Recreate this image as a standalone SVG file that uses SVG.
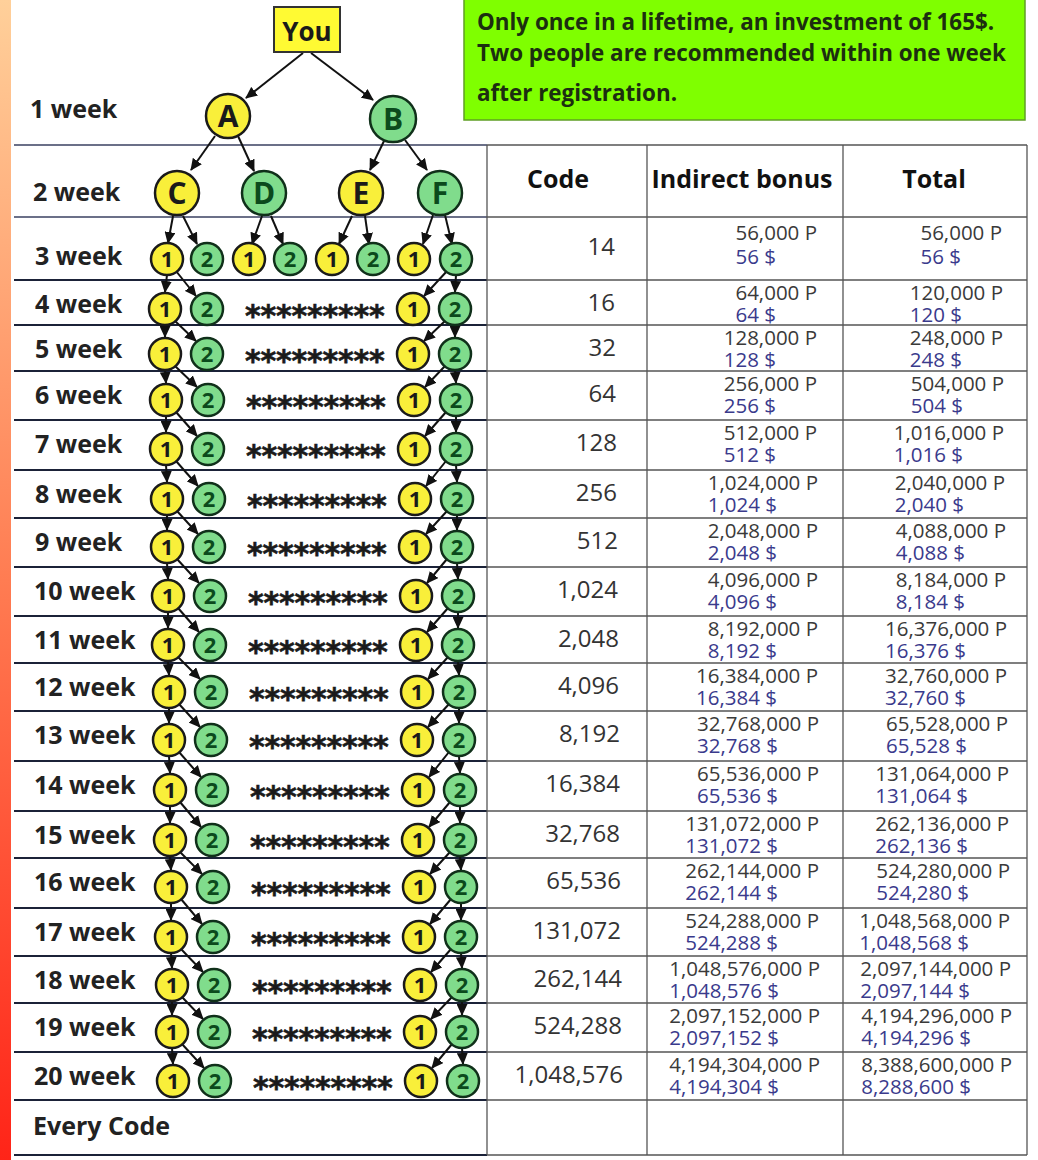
<svg xmlns="http://www.w3.org/2000/svg" width="1038" height="1160" viewBox="0 0 1038 1160">
<style>
text{font-family:"Open Sans","Noto Sans",sans-serif}
.lbl{font-weight:700;font-size:25px;fill:#222}
.hdr{font-weight:700;font-size:25px;fill:#111;text-anchor:middle}
.code{font-size:24px;fill:#333;text-anchor:end}
.v{font-size:20.5px;fill:#3a3a3a;text-anchor:end}
.d{fill:#3a3a8c}
.stars{font-family:"DejaVu Sans",sans-serif;font-weight:700;font-size:30px;fill:#1a1a1a;letter-spacing:-0.2px;stroke:#1a1a1a;stroke-width:0.6}
.note{font-weight:700;font-size:22.4px;fill:#1c2e10}
.cy{fill:#F9EF3A;stroke:#1a1a1a;stroke-width:2.5}
.cg{fill:#80DC8C;stroke:#10301a;stroke-width:2.5}
.ny{font-weight:700;font-size:22px;fill:#1a1a1a;text-anchor:middle}
.ng{font-weight:700;font-size:22px;fill:#0b4a1c;text-anchor:middle}
.big{font-size:30px}
.arr{stroke:#111;stroke-width:2;fill:none;marker-end:url(#ah)}
.grid{stroke:#555;stroke-width:1.3}
.rl{stroke:#1b2238;stroke-width:2}
.rlt{stroke:#3a4060;stroke-width:1.5}
</style>
<defs>
<linearGradient id="strip" x1="0" y1="0" x2="0" y2="1">
<stop offset="0" stop-color="#FFD09A"/>
<stop offset="0.5" stop-color="#FF7C52"/>
<stop offset="1" stop-color="#FF2418"/>
</linearGradient>
<marker id="ah" markerUnits="userSpaceOnUse" markerWidth="12" markerHeight="11" viewBox="0 0 12 11" refX="11" refY="5.5" orient="auto">
<path d="M0,0 L12,5.5 L0,11 z" fill="#111"/>
</marker>
</defs>
<rect x="0" y="0" width="1038" height="1160" fill="#fff"/>
<rect x="0" y="0" width="11" height="1160" fill="url(#strip)"/>

<g id="notice">
<rect x="464" y="-3" width="561" height="123" fill="#7FFF00" stroke="#5f9f25" stroke-width="1.5"/>
<text class="note" x="477" y="30">Only once in a lifetime, an investment of 165$.</text>
<text class="note" x="477" y="61">Two people are recommended within one week</text>
<text class="note" x="477" y="101">after registration.</text>
</g>

<g id="row-lines">
<line class="rlt" x1="14" y1="145" x2="487" y2="145"/>
<line class="rlt" x1="14" y1="217" x2="487" y2="217"/>
<line class="rl" x1="14" y1="280" x2="487" y2="280"/>
<line class="rl" x1="14" y1="325" x2="487" y2="325"/>
<line class="rl" x1="14" y1="371" x2="487" y2="371"/>
<line class="rl" x1="14" y1="420" x2="487" y2="420"/>
<line class="rl" x1="14" y1="470" x2="487" y2="470"/>
<line class="rl" x1="14" y1="518" x2="487" y2="518"/>
<line class="rl" x1="14" y1="567" x2="487" y2="567"/>
<line class="rl" x1="14" y1="616" x2="487" y2="616"/>
<line class="rl" x1="14" y1="663" x2="487" y2="663"/>
<line class="rl" x1="14" y1="711" x2="487" y2="711"/>
<line class="rl" x1="14" y1="761" x2="487" y2="761"/>
<line class="rl" x1="14" y1="811" x2="487" y2="811"/>
<line class="rl" x1="14" y1="858" x2="487" y2="858"/>
<line class="rl" x1="14" y1="908" x2="487" y2="908"/>
<line class="rl" x1="14" y1="956" x2="487" y2="956"/>
<line class="rl" x1="14" y1="1003" x2="487" y2="1003"/>
<line class="rl" x1="14" y1="1052" x2="487" y2="1052"/>
<line class="rl" x1="14" y1="1100" x2="487" y2="1100"/>
<line class="rl" x1="14" y1="1155" x2="487" y2="1155"/>
</g>

<g id="table-grid">
<line class="grid" x1="487" y1="145" x2="487" y2="1155"/>
<line class="grid" x1="647" y1="145" x2="647" y2="1155"/>
<line class="grid" x1="843" y1="145" x2="843" y2="1155"/>
<line class="grid" x1="1027" y1="145" x2="1027" y2="1155"/>
<line class="grid" x1="487" y1="145" x2="1027" y2="145"/>
<line class="grid" x1="487" y1="217" x2="1027" y2="217"/>
<line class="grid" x1="487" y1="280" x2="1027" y2="280"/>
<line class="grid" x1="487" y1="325" x2="1027" y2="325"/>
<line class="grid" x1="487" y1="371" x2="1027" y2="371"/>
<line class="grid" x1="487" y1="420" x2="1027" y2="420"/>
<line class="grid" x1="487" y1="470" x2="1027" y2="470"/>
<line class="grid" x1="487" y1="518" x2="1027" y2="518"/>
<line class="grid" x1="487" y1="567" x2="1027" y2="567"/>
<line class="grid" x1="487" y1="616" x2="1027" y2="616"/>
<line class="grid" x1="487" y1="663" x2="1027" y2="663"/>
<line class="grid" x1="487" y1="711" x2="1027" y2="711"/>
<line class="grid" x1="487" y1="761" x2="1027" y2="761"/>
<line class="grid" x1="487" y1="811" x2="1027" y2="811"/>
<line class="grid" x1="487" y1="858" x2="1027" y2="858"/>
<line class="grid" x1="487" y1="908" x2="1027" y2="908"/>
<line class="grid" x1="487" y1="956" x2="1027" y2="956"/>
<line class="grid" x1="487" y1="1003" x2="1027" y2="1003"/>
<line class="grid" x1="487" y1="1052" x2="1027" y2="1052"/>
<line class="grid" x1="487" y1="1100" x2="1027" y2="1100"/>
<line class="grid" x1="487" y1="1155" x2="1027" y2="1155"/>
</g>

<g id="table-text">
<text class="hdr" x="558" y="188">Code</text>
<text class="hdr" x="742" y="188">Indirect bonus</text>
<text class="hdr" x="934" y="188">Total</text>

<text class="code" x="615" y="255">14</text>
<text class="v"><tspan x="817" y="240">56,000 P</tspan><tspan class="d" x="776" y="264">56 $</tspan></text>
<text class="v"><tspan x="1002" y="240">56,000 P</tspan><tspan class="d" x="961" y="264">56 $</tspan></text>

<text class="code" x="615" y="311">16</text>
<text class="v"><tspan x="817" y="300">64,000 P</tspan><tspan class="d" x="776" y="322">64 $</tspan></text>
<text class="v"><tspan x="1003" y="300">120,000 P</tspan><tspan class="d" x="962" y="322">120 $</tspan></text>

<text class="code" x="616" y="356">32</text>
<text class="v"><tspan x="817" y="345">128,000 P</tspan><tspan class="d" x="776" y="367">128 $</tspan></text>
<text class="v"><tspan x="1003" y="345">248,000 P</tspan><tspan class="d" x="962" y="367">248 $</tspan></text>

<text class="code" x="616" y="402">64</text>
<text class="v"><tspan x="817" y="391">256,000 P</tspan><tspan class="d" x="776" y="413">256 $</tspan></text>
<text class="v"><tspan x="1004" y="391">504,000 P</tspan><tspan class="d" x="963" y="413">504 $</tspan></text>

<text class="code" x="617" y="451">128</text>
<text class="v"><tspan x="817" y="440">512,000 P</tspan><tspan class="d" x="776" y="462">512 $</tspan></text>
<text class="v"><tspan x="1004" y="440">1,016,000 P</tspan><tspan class="d" x="963" y="462">1,016 $</tspan></text>

<text class="code" x="617" y="501">256</text>
<text class="v"><tspan x="818" y="490">1,024,000 P</tspan><tspan class="d" x="777" y="512">1,024 $</tspan></text>
<text class="v"><tspan x="1005" y="490">2,040,000 P</tspan><tspan class="d" x="964" y="512">2,040 $</tspan></text>

<text class="code" x="618" y="549">512</text>
<text class="v"><tspan x="818" y="538">2,048,000 P</tspan><tspan class="d" x="777" y="560">2,048 $</tspan></text>
<text class="v"><tspan x="1006" y="538">4,088,000 P</tspan><tspan class="d" x="965" y="560">4,088 $</tspan></text>

<text class="code" x="618" y="598">1,024</text>
<text class="v"><tspan x="818" y="587">4,096,000 P</tspan><tspan class="d" x="777" y="609">4,096 $</tspan></text>
<text class="v"><tspan x="1006" y="587">8,184,000 P</tspan><tspan class="d" x="965" y="609">8,184 $</tspan></text>

<text class="code" x="619" y="647">2,048</text>
<text class="v"><tspan x="818" y="636">8,192,000 P</tspan><tspan class="d" x="777" y="658">8,192 $</tspan></text>
<text class="v"><tspan x="1007" y="636">16,376,000 P</tspan><tspan class="d" x="966" y="658">16,376 $</tspan></text>

<text class="code" x="619" y="694">4,096</text>
<text class="v"><tspan x="818" y="683">16,384,000 P</tspan><tspan class="d" x="777" y="705">16,384 $</tspan></text>
<text class="v"><tspan x="1007" y="683">32,760,000 P</tspan><tspan class="d" x="966" y="705">32,760 $</tspan></text>

<text class="code" x="620" y="742">8,192</text>
<text class="v"><tspan x="819" y="731">32,768,000 P</tspan><tspan class="d" x="778" y="753">32,768 $</tspan></text>
<text class="v"><tspan x="1008" y="731">65,528,000 P</tspan><tspan class="d" x="967" y="753">65,528 $</tspan></text>

<text class="code" x="620" y="792">16,384</text>
<text class="v"><tspan x="819" y="781">65,536,000 P</tspan><tspan class="d" x="778" y="803">65,536 $</tspan></text>
<text class="v"><tspan x="1009" y="781">131,064,000 P</tspan><tspan class="d" x="968" y="803">131,064 $</tspan></text>

<text class="code" x="620" y="842">32,768</text>
<text class="v"><tspan x="819" y="831">131,072,000 P</tspan><tspan class="d" x="778" y="853">131,072 $</tspan></text>
<text class="v"><tspan x="1009" y="831">262,136,000 P</tspan><tspan class="d" x="968" y="853">262,136 $</tspan></text>

<text class="code" x="621" y="889">65,536</text>
<text class="v"><tspan x="819" y="878">262,144,000 P</tspan><tspan class="d" x="778" y="900">262,144 $</tspan></text>
<text class="v"><tspan x="1010" y="878">524,280,000 P</tspan><tspan class="d" x="969" y="900">524,280 $</tspan></text>

<text class="code" x="621" y="939">131,072</text>
<text class="v"><tspan x="819" y="928">524,288,000 P</tspan><tspan class="d" x="778" y="950">524,288 $</tspan></text>
<text class="v"><tspan x="1010" y="928">1,048,568,000 P</tspan><tspan class="d" x="969" y="950">1,048,568 $</tspan></text>

<text class="code" x="622" y="987">262,144</text>
<text class="v"><tspan x="820" y="976">1,048,576,000 P</tspan><tspan class="d" x="779" y="998">1,048,576 $</tspan></text>
<text class="v"><tspan x="1011" y="976">2,097,144,000 P</tspan><tspan class="d" x="970" y="998">2,097,144 $</tspan></text>

<text class="code" x="622" y="1034">524,288</text>
<text class="v"><tspan x="820" y="1023">2,097,152,000 P</tspan><tspan class="d" x="779" y="1045">2,097,152 $</tspan></text>
<text class="v"><tspan x="1012" y="1023">4,194,296,000 P</tspan><tspan class="d" x="971" y="1045">4,194,296 $</tspan></text>

<text class="code" x="623" y="1083">1,048,576</text>
<text class="v"><tspan x="820" y="1072">4,194,304,000 P</tspan><tspan class="d" x="779" y="1094">4,194,304 $</tspan></text>
<text class="v"><tspan x="1012" y="1072">8,388,600,000 P</tspan><tspan class="d" x="971" y="1094">8,288,600 $</tspan></text>
</g>

<g id="week-labels">
<text class="lbl" x="30" y="118">1 week</text>
<text class="lbl" x="33" y="201">2 week</text>
<text class="lbl" x="35" y="265">3 week</text>
<text class="lbl" x="35" y="313">4 week</text>
<text class="lbl" x="35" y="358">5 week</text>
<text class="lbl" x="35" y="404">6 week</text>
<text class="lbl" x="35" y="453">7 week</text>
<text class="lbl" x="35" y="503">8 week</text>
<text class="lbl" x="35" y="551">9 week</text>
<text class="lbl" x="34" y="600">10 week</text>
<text class="lbl" x="34" y="649">11 week</text>
<text class="lbl" x="34" y="696">12 week</text>
<text class="lbl" x="34" y="744">13 week</text>
<text class="lbl" x="34" y="794">14 week</text>
<text class="lbl" x="34" y="844">15 week</text>
<text class="lbl" x="34" y="891">16 week</text>
<text class="lbl" x="34" y="941">17 week</text>
<text class="lbl" x="34" y="989">18 week</text>
<text class="lbl" x="34" y="1036">19 week</text>
<text class="lbl" x="34" y="1085">20 week</text>
<text class="lbl" x="33" y="1135">Every Code</text>
</g>

<g id="stars">
<text class="stars" x="245" y="326">*********</text>
<text class="stars" x="245" y="371">*********</text>
<text class="stars" x="246" y="417">*********</text>
<text class="stars" x="246" y="466">*********</text>
<text class="stars" x="247" y="516">*********</text>
<text class="stars" x="247" y="564">*********</text>
<text class="stars" x="248" y="613">*********</text>
<text class="stars" x="248" y="662">*********</text>
<text class="stars" x="249" y="709">*********</text>
<text class="stars" x="249" y="757">*********</text>
<text class="stars" x="250" y="807">*********</text>
<text class="stars" x="250" y="857">*********</text>
<text class="stars" x="251" y="904">*********</text>
<text class="stars" x="251" y="954">*********</text>
<text class="stars" x="252" y="1002">*********</text>
<text class="stars" x="252" y="1049">*********</text>
<text class="stars" x="253" y="1098">*********</text>
</g>

<g id="connectors">
<line class="arr" x1="303" y1="53" x2="246" y2="98"/>
<line class="arr" x1="311" y1="53" x2="373" y2="100"/>
<line class="arr" x1="215" y1="136" x2="191" y2="170"/>
<line class="arr" x1="238" y1="136" x2="254" y2="171"/>
<line class="arr" x1="384" y1="141" x2="370" y2="170"/>
<line class="arr" x1="405" y1="140" x2="427" y2="170"/>
<line class="arr" x1="173" y1="216" x2="168" y2="243"/>
<line class="arr" x1="183" y1="216" x2="197" y2="244"/>
<line class="arr" x1="262" y1="216" x2="252" y2="244"/>
<line class="arr" x1="271" y1="216" x2="283" y2="244"/>
<line class="arr" x1="352" y1="216" x2="339" y2="244"/>
<line class="arr" x1="365" y1="216" x2="369" y2="244"/>
<line class="arr" x1="433" y1="215" x2="423" y2="244"/>
<line class="arr" x1="445" y1="215" x2="452" y2="244"/>
<line class="arr" x1="167" y1="275" x2="165" y2="292"/>
<line class="arr" x1="176" y1="271" x2="196" y2="296"/>
<line class="arr" x1="456" y1="275" x2="455" y2="292"/>
<line class="arr" x1="447" y1="271" x2="424" y2="296"/>
<line class="arr" x1="165" y1="325" x2="165" y2="337"/>
<line class="arr" x1="175" y1="321" x2="196" y2="341"/>
<line class="arr" x1="455" y1="325" x2="455" y2="337"/>
<line class="arr" x1="445" y1="321" x2="424" y2="341"/>
<line class="arr" x1="165" y1="370" x2="166" y2="383"/>
<line class="arr" x1="175" y1="366" x2="197" y2="387"/>
<line class="arr" x1="455" y1="370" x2="456" y2="383"/>
<line class="arr" x1="445" y1="366" x2="425" y2="387"/>
<line class="arr" x1="166" y1="416" x2="166" y2="432"/>
<line class="arr" x1="176" y1="412" x2="197" y2="436"/>
<line class="arr" x1="456" y1="416" x2="456" y2="432"/>
<line class="arr" x1="446" y1="412" x2="425" y2="436"/>
<line class="arr" x1="166" y1="465" x2="167" y2="482"/>
<line class="arr" x1="176" y1="461" x2="198" y2="486"/>
<line class="arr" x1="456" y1="465" x2="457" y2="482"/>
<line class="arr" x1="446" y1="461" x2="426" y2="486"/>
<line class="arr" x1="167" y1="515" x2="167" y2="530"/>
<line class="arr" x1="177" y1="511" x2="198" y2="534"/>
<line class="arr" x1="457" y1="515" x2="457" y2="530"/>
<line class="arr" x1="447" y1="511" x2="426" y2="534"/>
<line class="arr" x1="167" y1="563" x2="168" y2="579"/>
<line class="arr" x1="177" y1="559" x2="199" y2="583"/>
<line class="arr" x1="457" y1="563" x2="458" y2="579"/>
<line class="arr" x1="447" y1="559" x2="427" y2="583"/>
<line class="arr" x1="168" y1="612" x2="168" y2="628"/>
<line class="arr" x1="178" y1="608" x2="199" y2="632"/>
<line class="arr" x1="458" y1="612" x2="458" y2="628"/>
<line class="arr" x1="448" y1="608" x2="427" y2="632"/>
<line class="arr" x1="168" y1="661" x2="169" y2="675"/>
<line class="arr" x1="178" y1="657" x2="200" y2="679"/>
<line class="arr" x1="458" y1="661" x2="459" y2="675"/>
<line class="arr" x1="448" y1="657" x2="428" y2="679"/>
<line class="arr" x1="169" y1="708" x2="169" y2="723"/>
<line class="arr" x1="179" y1="704" x2="200" y2="727"/>
<line class="arr" x1="459" y1="708" x2="459" y2="723"/>
<line class="arr" x1="449" y1="704" x2="428" y2="727"/>
<line class="arr" x1="169" y1="756" x2="170" y2="773"/>
<line class="arr" x1="179" y1="752" x2="201" y2="777"/>
<line class="arr" x1="459" y1="756" x2="460" y2="773"/>
<line class="arr" x1="449" y1="752" x2="429" y2="777"/>
<line class="arr" x1="170" y1="806" x2="170" y2="823"/>
<line class="arr" x1="180" y1="802" x2="201" y2="827"/>
<line class="arr" x1="460" y1="806" x2="460" y2="823"/>
<line class="arr" x1="450" y1="802" x2="429" y2="827"/>
<line class="arr" x1="170" y1="856" x2="171" y2="870"/>
<line class="arr" x1="180" y1="852" x2="202" y2="874"/>
<line class="arr" x1="460" y1="856" x2="461" y2="870"/>
<line class="arr" x1="450" y1="852" x2="430" y2="874"/>
<line class="arr" x1="171" y1="903" x2="171" y2="920"/>
<line class="arr" x1="181" y1="899" x2="202" y2="924"/>
<line class="arr" x1="461" y1="903" x2="461" y2="920"/>
<line class="arr" x1="451" y1="899" x2="430" y2="924"/>
<line class="arr" x1="171" y1="953" x2="172" y2="968"/>
<line class="arr" x1="181" y1="949" x2="203" y2="972"/>
<line class="arr" x1="461" y1="953" x2="462" y2="968"/>
<line class="arr" x1="451" y1="949" x2="431" y2="972"/>
<line class="arr" x1="172" y1="1001" x2="172" y2="1015"/>
<line class="arr" x1="182" y1="997" x2="203" y2="1019"/>
<line class="arr" x1="462" y1="1001" x2="462" y2="1015"/>
<line class="arr" x1="452" y1="997" x2="431" y2="1019"/>
<line class="arr" x1="172" y1="1048" x2="173" y2="1064"/>
<line class="arr" x1="182" y1="1044" x2="204" y2="1068"/>
<line class="arr" x1="462" y1="1048" x2="463" y2="1064"/>
<line class="arr" x1="452" y1="1044" x2="432" y2="1068"/>
</g>

<g id="node-you"><rect x="274" y="7" width="66" height="45" fill="#FFFA33" stroke="#333" stroke-width="2"/><text class="ny" x="307" y="41" style="font-size:26px">You</text></g>
<g id="node-a"><circle class="cy" cx="228" cy="116" r="22"/><text class="ny big" x="228" y="127">A</text></g>
<g id="node-b"><circle class="cg" cx="393" cy="119" r="23"/><text class="ng big" x="393" y="130">B</text></g>
<g id="node-c"><circle class="cy" cx="177" cy="193" r="22"/><text class="ny big" x="177" y="204">C</text></g>
<g id="node-d"><circle class="cg" cx="264" cy="193" r="22"/><text class="ng big" x="264" y="204">D</text></g>
<g id="node-e"><circle class="cy" cx="361" cy="193" r="22"/><text class="ny big" x="361" y="204">E</text></g>
<g id="node-f"><circle class="cg" cx="440" cy="193" r="22"/><text class="ng big" x="440" y="204">F</text></g>

<g id="w3-c1"><circle class="cy" cx="167" cy="259" r="16"/><text class="ny" x="167" y="267">1</text></g>
<g id="w3-c2"><circle class="cg" cx="207" cy="259" r="16"/><text class="ng" x="207" y="267">2</text></g>
<g id="w3-d1"><circle class="cy" cx="249" cy="259" r="16"/><text class="ny" x="249" y="267">1</text></g>
<g id="w3-d2"><circle class="cg" cx="290" cy="259" r="16"/><text class="ng" x="290" y="267">2</text></g>
<g id="w3-e1"><circle class="cy" cx="332" cy="259" r="16"/><text class="ny" x="332" y="267">1</text></g>
<g id="w3-e2"><circle class="cg" cx="373" cy="259" r="16"/><text class="ng" x="373" y="267">2</text></g>
<g id="w3-f1"><circle class="cy" cx="414" cy="259" r="16"/><text class="ny" x="414" y="267">1</text></g>
<g id="w3-f2"><circle class="cg" cx="456" cy="259" r="16"/><text class="ng" x="456" y="267">2</text></g>

<g id="w4-l1"><circle class="cy" cx="165" cy="309" r="16"/><text class="ny" x="165" y="317">1</text></g>
<g id="w4-l2"><circle class="cg" cx="207" cy="309" r="16"/><text class="ng" x="207" y="317">2</text></g>
<g id="w4-r1"><circle class="cy" cx="413" cy="309" r="16"/><text class="ny" x="413" y="317">1</text></g>
<g id="w4-r2"><circle class="cg" cx="455" cy="309" r="16"/><text class="ng" x="455" y="317">2</text></g>

<g id="w5-l1"><circle class="cy" cx="165" cy="354" r="16"/><text class="ny" x="165" y="362">1</text></g>
<g id="w5-l2"><circle class="cg" cx="207" cy="354" r="16"/><text class="ng" x="207" y="362">2</text></g>
<g id="w5-r1"><circle class="cy" cx="413" cy="354" r="16"/><text class="ny" x="413" y="362">1</text></g>
<g id="w5-r2"><circle class="cg" cx="455" cy="354" r="16"/><text class="ng" x="455" y="362">2</text></g>

<g id="w6-l1"><circle class="cy" cx="166" cy="400" r="16"/><text class="ny" x="166" y="408">1</text></g>
<g id="w6-l2"><circle class="cg" cx="208" cy="400" r="16"/><text class="ng" x="208" y="408">2</text></g>
<g id="w6-r1"><circle class="cy" cx="414" cy="400" r="16"/><text class="ny" x="414" y="408">1</text></g>
<g id="w6-r2"><circle class="cg" cx="456" cy="400" r="16"/><text class="ng" x="456" y="408">2</text></g>

<g id="w7-l1"><circle class="cy" cx="166" cy="449" r="16"/><text class="ny" x="166" y="457">1</text></g>
<g id="w7-l2"><circle class="cg" cx="208" cy="449" r="16"/><text class="ng" x="208" y="457">2</text></g>
<g id="w7-r1"><circle class="cy" cx="414" cy="449" r="16"/><text class="ny" x="414" y="457">1</text></g>
<g id="w7-r2"><circle class="cg" cx="456" cy="449" r="16"/><text class="ng" x="456" y="457">2</text></g>

<g id="w8-l1"><circle class="cy" cx="167" cy="499" r="16"/><text class="ny" x="167" y="507">1</text></g>
<g id="w8-l2"><circle class="cg" cx="209" cy="499" r="16"/><text class="ng" x="209" y="507">2</text></g>
<g id="w8-r1"><circle class="cy" cx="415" cy="499" r="16"/><text class="ny" x="415" y="507">1</text></g>
<g id="w8-r2"><circle class="cg" cx="457" cy="499" r="16"/><text class="ng" x="457" y="507">2</text></g>

<g id="w9-l1"><circle class="cy" cx="167" cy="547" r="16"/><text class="ny" x="167" y="555">1</text></g>
<g id="w9-l2"><circle class="cg" cx="209" cy="547" r="16"/><text class="ng" x="209" y="555">2</text></g>
<g id="w9-r1"><circle class="cy" cx="415" cy="547" r="16"/><text class="ny" x="415" y="555">1</text></g>
<g id="w9-r2"><circle class="cg" cx="457" cy="547" r="16"/><text class="ng" x="457" y="555">2</text></g>

<g id="w10-l1"><circle class="cy" cx="168" cy="596" r="16"/><text class="ny" x="168" y="604">1</text></g>
<g id="w10-l2"><circle class="cg" cx="210" cy="596" r="16"/><text class="ng" x="210" y="604">2</text></g>
<g id="w10-r1"><circle class="cy" cx="416" cy="596" r="16"/><text class="ny" x="416" y="604">1</text></g>
<g id="w10-r2"><circle class="cg" cx="458" cy="596" r="16"/><text class="ng" x="458" y="604">2</text></g>

<g id="w11-l1"><circle class="cy" cx="168" cy="645" r="16"/><text class="ny" x="168" y="653">1</text></g>
<g id="w11-l2"><circle class="cg" cx="210" cy="645" r="16"/><text class="ng" x="210" y="653">2</text></g>
<g id="w11-r1"><circle class="cy" cx="416" cy="645" r="16"/><text class="ny" x="416" y="653">1</text></g>
<g id="w11-r2"><circle class="cg" cx="458" cy="645" r="16"/><text class="ng" x="458" y="653">2</text></g>

<g id="w12-l1"><circle class="cy" cx="169" cy="692" r="16"/><text class="ny" x="169" y="700">1</text></g>
<g id="w12-l2"><circle class="cg" cx="211" cy="692" r="16"/><text class="ng" x="211" y="700">2</text></g>
<g id="w12-r1"><circle class="cy" cx="417" cy="692" r="16"/><text class="ny" x="417" y="700">1</text></g>
<g id="w12-r2"><circle class="cg" cx="459" cy="692" r="16"/><text class="ng" x="459" y="700">2</text></g>

<g id="w13-l1"><circle class="cy" cx="169" cy="740" r="16"/><text class="ny" x="169" y="748">1</text></g>
<g id="w13-l2"><circle class="cg" cx="211" cy="740" r="16"/><text class="ng" x="211" y="748">2</text></g>
<g id="w13-r1"><circle class="cy" cx="417" cy="740" r="16"/><text class="ny" x="417" y="748">1</text></g>
<g id="w13-r2"><circle class="cg" cx="459" cy="740" r="16"/><text class="ng" x="459" y="748">2</text></g>

<g id="w14-l1"><circle class="cy" cx="170" cy="790" r="16"/><text class="ny" x="170" y="798">1</text></g>
<g id="w14-l2"><circle class="cg" cx="212" cy="790" r="16"/><text class="ng" x="212" y="798">2</text></g>
<g id="w14-r1"><circle class="cy" cx="418" cy="790" r="16"/><text class="ny" x="418" y="798">1</text></g>
<g id="w14-r2"><circle class="cg" cx="460" cy="790" r="16"/><text class="ng" x="460" y="798">2</text></g>

<g id="w15-l1"><circle class="cy" cx="170" cy="840" r="16"/><text class="ny" x="170" y="848">1</text></g>
<g id="w15-l2"><circle class="cg" cx="212" cy="840" r="16"/><text class="ng" x="212" y="848">2</text></g>
<g id="w15-r1"><circle class="cy" cx="418" cy="840" r="16"/><text class="ny" x="418" y="848">1</text></g>
<g id="w15-r2"><circle class="cg" cx="460" cy="840" r="16"/><text class="ng" x="460" y="848">2</text></g>

<g id="w16-l1"><circle class="cy" cx="171" cy="887" r="16"/><text class="ny" x="171" y="895">1</text></g>
<g id="w16-l2"><circle class="cg" cx="213" cy="887" r="16"/><text class="ng" x="213" y="895">2</text></g>
<g id="w16-r1"><circle class="cy" cx="419" cy="887" r="16"/><text class="ny" x="419" y="895">1</text></g>
<g id="w16-r2"><circle class="cg" cx="461" cy="887" r="16"/><text class="ng" x="461" y="895">2</text></g>

<g id="w17-l1"><circle class="cy" cx="171" cy="937" r="16"/><text class="ny" x="171" y="945">1</text></g>
<g id="w17-l2"><circle class="cg" cx="213" cy="937" r="16"/><text class="ng" x="213" y="945">2</text></g>
<g id="w17-r1"><circle class="cy" cx="419" cy="937" r="16"/><text class="ny" x="419" y="945">1</text></g>
<g id="w17-r2"><circle class="cg" cx="461" cy="937" r="16"/><text class="ng" x="461" y="945">2</text></g>

<g id="w18-l1"><circle class="cy" cx="172" cy="985" r="16"/><text class="ny" x="172" y="993">1</text></g>
<g id="w18-l2"><circle class="cg" cx="214" cy="985" r="16"/><text class="ng" x="214" y="993">2</text></g>
<g id="w18-r1"><circle class="cy" cx="420" cy="985" r="16"/><text class="ny" x="420" y="993">1</text></g>
<g id="w18-r2"><circle class="cg" cx="462" cy="985" r="16"/><text class="ng" x="462" y="993">2</text></g>

<g id="w19-l1"><circle class="cy" cx="172" cy="1032" r="16"/><text class="ny" x="172" y="1040">1</text></g>
<g id="w19-l2"><circle class="cg" cx="214" cy="1032" r="16"/><text class="ng" x="214" y="1040">2</text></g>
<g id="w19-r1"><circle class="cy" cx="420" cy="1032" r="16"/><text class="ny" x="420" y="1040">1</text></g>
<g id="w19-r2"><circle class="cg" cx="462" cy="1032" r="16"/><text class="ng" x="462" y="1040">2</text></g>

<g id="w20-l1"><circle class="cy" cx="173" cy="1081" r="16"/><text class="ny" x="173" y="1089">1</text></g>
<g id="w20-l2"><circle class="cg" cx="215" cy="1081" r="16"/><text class="ng" x="215" y="1089">2</text></g>
<g id="w20-r1"><circle class="cy" cx="421" cy="1081" r="16"/><text class="ny" x="421" y="1089">1</text></g>
<g id="w20-r2"><circle class="cg" cx="463" cy="1081" r="16"/><text class="ng" x="463" y="1089">2</text></g>
</svg>
